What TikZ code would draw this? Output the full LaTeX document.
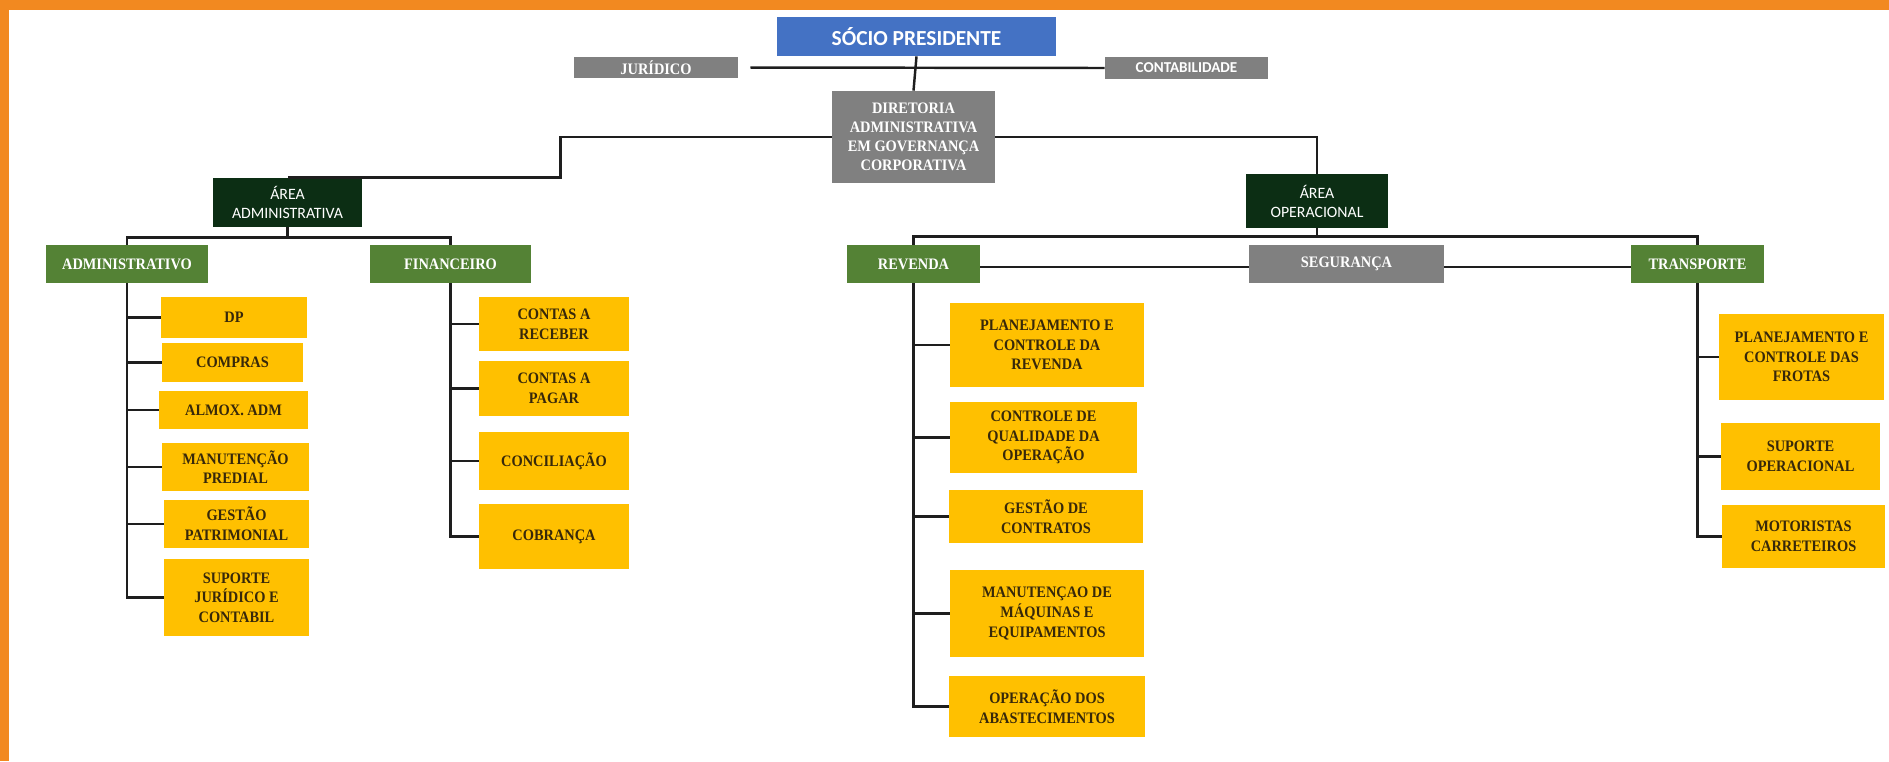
\documentclass[tikz,border=0pt]{standalone}
\usepackage{fontspec}
\setmainfont{Liberation Serif}[FakeStretch=0.9]
\newfontfamily\calibfont{Carlito}

\definecolor{frameorange}{RGB}{242,137,32}
\definecolor{socioblue}{RGB}{68,114,196}
\definecolor{boxgrey}{RGB}{128,128,128}
\definecolor{areagreen}{RGB}{12,46,20}
\definecolor{sectgreen}{RGB}{84,130,53}
\definecolor{unityellow}{RGB}{255,192,0}
\definecolor{unittext}{RGB}{55,40,10}
\definecolor{linecol}{RGB}{30,30,30}

\tikzset{
    sz/.style n args={2}{minimum width=#1*0.02cm, minimum height=#2*0.02cm},
    orgbox/.style={inner sep=0pt, align=center, font=\fontsize{9.1}{11.2}\selectfont\bfseries},
    topbox/.style={orgbox, fill=socioblue, text=white, font=\calibfont\fontsize{12.2}{13}\selectfont\bfseries},
    greybox/.style={orgbox, fill=boxgrey, text=white},
    areabox/.style={orgbox, fill=areagreen, text=white, font=\calibfont\fontsize{9}{10.8}\selectfont},
    sectorbox/.style={orgbox, fill=sectgreen, text=white},
    unitbox/.style={orgbox, fill=unityellow, text=unittext},
    link/.style={draw=linecol, line width=1.4pt}
}

\begin{document}
\begin{tikzpicture}[x=0.02cm, y=-0.02cm]

    \useasboundingbox (0,0) rectangle (1889,761);

    % Frame
    \fill[frameorange] (0,0) rectangle (1889,10);
    \fill[frameorange] (0,0) rectangle (9,761);

    % Top
    \node[topbox, sz={279}{39}] (socio) at (916.5,36.5) {SÓCIO PRESIDENTE};
    \node[greybox, sz={164}{21}] (jur) at (656,67.5) {JURÍDICO};
    \node[greybox, sz={163}{22}, font=\calibfont\fontsize{8.6}{10}\selectfont\bfseries] (cont) at (1186.5,68) {CONTABILIDADE};
    \node[greybox, sz={163}{92}, font=\fontsize{9.1}{10.9}\selectfont\bfseries] (dir) at (913.5,137)
        {DIRETORIA\\ADMINISTRATIVA\\EM GOVERNANÇA\\CORPORATIVA};

    % Areas
    \node[areabox, sz={149}{49}] (areaadm) at (287.5,202.5) {ÁREA\\ADMINISTRATIVA};
    \node[areabox, sz={142}{54}] (areaop) at (1317,201) {ÁREA\\OPERACIONAL};

    % Sectors
    \node[sectorbox, sz={162}{38}] (adm) at (127,264) {ADMINISTRATIVO};
    \node[sectorbox, sz={161}{38}] (fin) at (450.5,264) {FINANCEIRO};
    \node[sectorbox, sz={133}{38}] (rev) at (913.5,264) {REVENDA};
    \node[greybox, sz={195}{38}] (seg) at (1346.5,264) {SEGURANÇA};
    \node[sectorbox, sz={133}{38}] (trans) at (1697.5,264) {TRANSPORTE};

    % Administrativo units
    \node[unitbox, sz={146}{41}] (dp) at (234,317.5) {DP};
    \node[unitbox, sz={141}{39}] (compras) at (232.5,362.5) {COMPRAS};
    \node[unitbox, sz={149}{38}] (almox) at (233.5,410) {ALMOX. ADM};
    \node[unitbox, sz={147}{48}] (manut) at (235.5,467) {MANUTENÇÃO\\PREDIAL};
    \node[unitbox, sz={145}{48}] (gestao) at (236.5,524) {GESTÃO\\PATRIMONIAL};
    \node[unitbox, sz={145}{77}] (suporte) at (236.5,597.5) {SUPORTE\\JURÍDICO E\\CONTABIL};

    % Financeiro units
    \node[unitbox, sz={150}{54}] (creceber) at (554,324) {CONTAS A\\RECEBER};
    \node[unitbox, sz={150}{55}] (cpagar) at (554,388.5) {CONTAS A\\PAGAR};
    \node[unitbox, sz={150}{58}] (concil) at (554,461) {CONCILIAÇÃO};
    \node[unitbox, sz={150}{65}] (cobranca) at (554,536.5) {COBRANÇA};

    % Revenda units
    \node[unitbox, sz={194}{84}] (planrev) at (1047,345) {PLANEJAMENTO E\\CONTROLE DA\\REVENDA};
    \node[unitbox, sz={187}{71}] (qualid) at (1043.5,437.5) {CONTROLE DE\\QUALIDADE DA\\OPERAÇÃO};
    \node[unitbox, sz={194}{53}] (contratos) at (1046,516.5) {GESTÃO DE\\CONTRATOS};
    \node[unitbox, sz={194}{87}] (maquinas) at (1047,613.5) {MANUTENÇAO DE\\MÁQUINAS E\\EQUIPAMENTOS};
    \node[unitbox, sz={196}{61}] (abastec) at (1047,706.5) {OPERAÇÃO DOS\\ABASTECIMENTOS};

    % Transporte units
    \node[unitbox, sz={165}{86}] (frotas) at (1801.5,357) {PLANEJAMENTO E\\CONTROLE DAS\\FROTAS};
    \node[unitbox, sz={159}{67}] (suporteop) at (1800.5,456.5) {SUPORTE\\OPERACIONAL};
    \node[unitbox, sz={163}{63}] (motoristas) at (1803.5,536.5) {MOTORISTAS\\CARRETEIROS};

    % Connectors
    \draw[link] (socio.south) -- (dir.north);
    \draw[link, shorten <=0.24cm] (jur.east) -- (cont.west);
    \draw[link] (dir.west) -- ++(-271,0) |- (areaadm.north);
    \draw[link] (dir.east) -| (areaop.north);

    \draw[link] (areaadm.south) -- ++(0,10) -| (adm.north);
    \draw[link] (areaadm.south) -- ++(0,10) -| (fin.north);
    \draw[link] (areaop.south) -- ++(0,8) -| (rev.north);
    \draw[link] (areaop.south) -- ++(0,8) -| (trans.north);
    \draw[link] ([yshift=-0.06cm]rev.east) -- ([yshift=-0.06cm]seg.west);
    \draw[link] ([yshift=-0.06cm]seg.east) -- ([yshift=-0.06cm]trans.west);

    \foreach \u in {dp,compras,almox,manut,gestao,suporte}
        \draw[link] (adm.south) |- (\u.west);
    \foreach \u in {creceber,cpagar,concil,cobranca}
        \draw[link] (fin.south) |- (\u.west);
    \foreach \u in {planrev,qualid,contratos,maquinas,abastec}
        \draw[link] (rev.south) |- (\u.west);
    \foreach \u in {frotas,suporteop,motoristas}
        \draw[link] (trans.south) |- (\u.west);

\end{tikzpicture}
\end{document}
